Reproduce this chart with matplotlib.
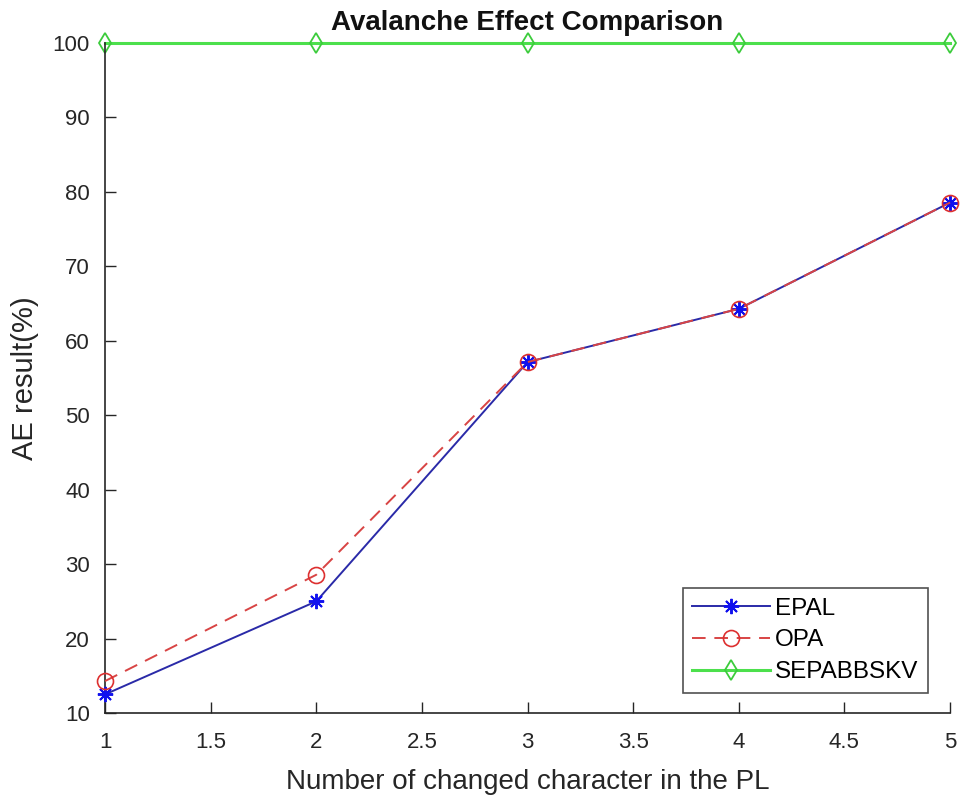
import matplotlib
matplotlib.use("Agg")
import matplotlib.pyplot as plt

plt.rcParams['font.family'] = ['Liberation Sans', 'DejaVu Sans']

x = [1, 2, 3, 4, 5]
epal = [12.5, 25.0, 57.14, 64.29, 78.57]
opa = [14.29, 28.57, 57.14, 64.29, 78.57]
sepabbskv = [100, 100, 100, 100, 100]
xtick_vals = [1, 1.5, 2, 2.5, 3, 3.5, 4, 4.5, 5]
xtick_labels = ['1', '1.5', '2', '2.5', '3', '3.5', '4', '4.5', '5']

fig = plt.figure(figsize=(9.61, 8.0), dpi=100)
ax = fig.add_axes([0.1093, 0.10875, 0.8793, 0.8375])

ax.plot(x, sepabbskv, color='#4ce04c', marker='d', markersize=10, markerfacecolor='none',
        markeredgecolor='#3ccc3c', markeredgewidth=1.3, linewidth=2.2, label='SEPABBSKV',
        zorder=2, clip_on=False)
ax.plot(x, epal, color='#2a2aa8', marker=(8, 2, 0), markersize=11, markeredgecolor='#1010ee',
        markeredgewidth=1.4, linewidth=1.4, label='EPAL', zorder=3, clip_on=False)
ax.plot(x, opa, color='#d84444', linestyle=(0, (7, 4.5)), marker='o', markersize=11.5,
        markerfacecolor='none', markeredgecolor='#dd3030', markeredgewidth=1.2,
        linewidth=1.4, label='OPA', zorder=3, clip_on=False)

ax.set_xlim(1, 5)
ax.set_ylim(10, 100)
ax.set_xticks(xtick_vals)
ax.set_xticklabels(xtick_labels)
ax.set_yticks(range(10, 101, 10))
for s in ['top', 'right']:
    ax.spines[s].set_visible(False)
ax.spines['left'].set_color('#262626')
ax.spines['bottom'].set_color('#262626')
ax.spines['left'].set_linewidth(1.2)
ax.spines['bottom'].set_linewidth(1.2)
ax.tick_params(direction='in', length=8, width=1.0, labelsize=16, colors='#262626')
ax.tick_params(axis='x', pad=14)
ax.tick_params(axis='y', pad=11)

ax.set_title('Avalanche Effect Comparison', fontsize=20, fontweight='bold', pad=9,
             color='#111111')
ax.set_xlabel('Number of changed character in the PL', fontsize=20, color='#262626',
              labelpad=11)
ax.set_ylabel('AE result(%)', fontsize=21, color='#262626', labelpad=10)

h, l = ax.get_legend_handles_labels()
order = [1, 2, 0]
leg = ax.legend([h[i] for i in order], [l[i] for i in order], loc='lower right',
                bbox_to_anchor=(0.974, 0.03), fontsize=17.5, frameon=True, fancybox=False,
                edgecolor='#262626', handlelength=3.2, borderpad=0.4, labelspacing=0.4,
                handletextpad=0.2, borderaxespad=0.0)
leg.get_frame().set_linewidth(1.2)

fig.savefig('out.png', dpi=100)
